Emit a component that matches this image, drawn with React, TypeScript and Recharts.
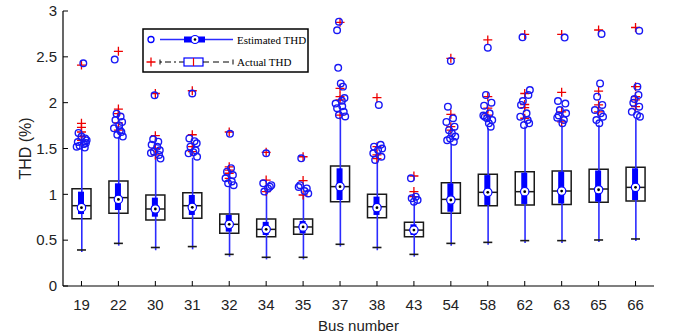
import React from 'react';
import { ComposedChart, Bar, Line, Scatter, XAxis, YAxis } from 'recharts';

const buses = ['19', '22', '30', '31', '32', '34', '35', '37', '38', '43', '54', '58', '62', '63', '65', '66'];
const yTicks = [0, 0.5, 1, 1.5, 2, 2.5, 3];

// Actual THD box statistics
const actualLow = [0.393, 0.465, 0.42, 0.43, 0.345, 0.313, 0.313, 0.455, 0.42, 0.345, 0.465, 0.476, 0.495, 0.495, 0.502, 0.513];
const actualQ1 = [0.735, 0.793, 0.72, 0.738, 0.575, 0.538, 0.564, 0.92, 0.745, 0.538, 0.793, 0.876, 0.884, 0.89, 0.913, 0.927];
const actualMedian = [0.876, 0.964, 0.84, 0.876, 0.673, 0.618, 0.644, 1.084, 0.865, 0.61, 0.945, 1.022, 1.029, 1.036, 1.058, 1.076];
const actualQ3 = [1.062, 1.145, 0.993, 1.018, 0.785, 0.731, 0.731, 1.309, 1.0, 0.695, 1.127, 1.218, 1.247, 1.255, 1.273, 1.295];

// Estimated THD box statistics
const estLow = [0.37, 0.44, 0.39, 0.4, 0.32, 0.29, 0.29, 0.43, 0.39, 0.32, 0.44, 0.45, 0.47, 0.47, 0.48, 0.49];
const estQ1 = [0.785, 0.829, 0.756, 0.775, 0.593, 0.556, 0.575, 0.938, 0.775, 0.556, 0.81, 0.884, 0.895, 0.9, 0.92, 0.938];
const estMedian = [0.855, 0.945, 0.84, 0.858, 0.673, 0.618, 0.644, 1.084, 0.855, 0.61, 0.938, 1.022, 1.029, 1.036, 1.05, 1.076];
const estQ3 = [1.029, 1.12, 0.964, 0.993, 0.775, 0.7, 0.71, 1.284, 0.975, 0.673, 1.12, 1.21, 1.236, 1.247, 1.26, 1.284];
const estHigh = [1.5, 1.63, 1.4, 1.4, 1.1, 1.03, 1.0, 1.84, 1.37, 0.91, 1.55, 1.72, 1.74, 1.75, 1.76, 1.83];

// Estimated THD outliers (values) and their horizontal jitter (fraction of a category)
const estOutliers: number[][] = [
  [2.43, 1.67, 1.63, 1.61, 1.59, 1.57, 1.55, 1.53, 1.51, 1.52, 1.56],
  [2.47, 1.88, 1.85, 1.81, 1.79, 1.75, 1.72, 1.68, 1.65, 1.63, 1.7],
  [2.08, 1.6, 1.575, 1.54, 1.52, 1.48, 1.465, 1.43, 1.39, 1.45],
  [2.1, 1.61, 1.58, 1.556, 1.52, 1.48, 1.447, 1.41, 1.46],
  [1.66, 1.285, 1.247, 1.21, 1.175, 1.14, 1.12, 1.1],
  [1.447, 1.12, 1.084, 1.065, 1.03, 1.1],
  [1.393, 1.1, 1.065, 1.036, 1.01, 1.08],
  [2.884, 2.79, 2.38, 2.21, 2.175, 2.05, 1.99, 1.96, 1.94, 1.9, 1.865, 1.85, 2.02],
  [1.975, 1.54, 1.52, 1.484, 1.447, 1.41, 1.375, 1.5],
  [1.175, 0.975, 0.956, 0.938, 0.92],
  [2.455, 1.956, 1.83, 1.79, 1.738, 1.7, 1.665, 1.63, 1.59, 1.575, 1.61],
  [2.6, 2.084, 2.0, 1.967, 1.884, 1.847, 1.81, 1.775, 1.738, 1.86, 1.83],
  [2.713, 2.138, 2.084, 2.018, 1.975, 1.884, 1.847, 1.81, 1.775, 1.756],
  [2.71, 2.018, 1.99, 1.92, 1.884, 1.836, 1.81, 1.775, 1.86],
  [2.75, 2.21, 2.065, 1.975, 1.92, 1.884, 1.847, 1.81, 1.775],
  [2.785, 2.175, 2.084, 2.0, 1.956, 1.9, 1.865, 1.847, 2.04],
];
const estJitter: number[][] = [
  [0.05, -0.08, 0.0, 0.1, 0.14, -0.1, 0.07, -0.05, 0.09, -0.13, 0.12],
  [-0.1, -0.05, 0.06, -0.08, 0.1, 0.02, -0.12, 0.08, -0.03, 0.12, 0.04],
  [-0.02, -0.06, 0.08, -0.1, 0.05, 0.12, -0.04, 0.1, 0.14, -0.12],
  [0.0, -0.08, 0.06, 0.12, -0.05, 0.09, -0.1, 0.13, 0.03],
  [0.02, 0.05, -0.06, 0.1, -0.1, 0.07, -0.03, 0.12],
  [0.0, -0.08, 0.1, 0.05, -0.05, 0.14],
  [-0.05, -0.08, 0.1, 0.04, 0.14, -0.12],
  [-0.03, -0.08, -0.05, 0.02, 0.08, 0.12, -0.12, 0.06, -0.08, 0.1, -0.03, 0.14, 0.05],
  [0.05, 0.1, -0.08, 0.03, -0.1, 0.12, -0.05, 0.14],
  [-0.08, 0.05, -0.06, 0.1, 0.0],
  [0.0, -0.08, 0.06, -0.12, 0.1, -0.05, 0.03, 0.12, -0.1, 0.08, -0.02],
  [0.0, -0.05, 0.1, -0.1, 0.05, -0.08, 0.12, 0.03, 0.08, -0.12, -0.02],
  [-0.06, 0.14, 0.1, -0.05, -0.1, 0.05, -0.12, 0.08, 0.12, -0.02],
  [0.08, -0.1, 0.1, -0.05, 0.12, -0.12, 0.06, 0.02, -0.08],
  [0.08, 0.04, -0.04, 0.1, -0.1, 0.06, 0.12, -0.06, 0.02],
  [0.1, 0.05, 0.08, -0.06, 0.1, -0.1, 0.04, 0.12, -0.03],
];

// Actual THD outliers
const actualOutliers: number[][] = [
  [2.41, 1.775, 1.73, 1.68, 1.63, 1.59],
  [2.56, 1.93, 1.88, 1.78, 1.7],
  [2.1, 1.64, 1.5, 1.43],
  [2.13, 1.65, 1.52, 1.465],
  [1.68, 1.3, 1.265, 1.23, 1.175],
  [1.458, 1.156, 1.03],
  [1.41, 1.15, 0.993],
  [2.876, 2.156, 2.065, 2.03, 1.865],
  [2.055, 1.52, 1.43, 1.39],
  [1.2, 1.03, 0.975],
  [2.484, 1.873, 1.738, 1.7],
  [2.684, 2.065, 1.94, 1.865],
  [2.745, 2.1, 1.98, 1.945, 1.83],
  [2.745, 2.113, 1.9, 1.79],
  [2.793, 2.127, 1.975, 1.9],
  [2.82, 2.175, 2.065, 2.03, 1.956],
];

const rows = buses.map((bus, i) => ({
  bus,
  aBox: [actualQ1[i], actualQ3[i]],
  aMed: actualMedian[i],
  aLow: actualLow[i],
  eWhisk: [estLow[i], estHigh[i]],
  eBox: [estQ1[i], estQ3[i]],
  eMed: estMedian[i],
}));

// numeric x axis on [0, 32]: category i is centred at 2*i+1
const estPts = estOutliers.flatMap((arr, i) => arr.map((v, k) => ({ x: 2 * i + 1 + 2 * estJitter[i][k], v })));
const actPts = actualOutliers.flatMap((arr, i) => arr.map((v) => ({ x: 2 * i + 1, v })));

const BLUE = '#0000ff';
const WHISKER = '#2b2bff';
const RED = '#ee0000';
const BLACK = '#1a1a1a';
const SANS = '"Liberation Sans", Arial, sans-serif';
const SERIF = '"Liberation Serif", "Times New Roman", serif';

const tickStyle = { fill: '#222', fontSize: 15, fontFamily: SANS };

const CapDot = (p: any) => (
  <line key={`cap-${p.index}`} x1={p.cx - 4.5} x2={p.cx + 4.5} y1={p.cy} y2={p.cy} stroke={BLACK} strokeWidth={1.6} />
);
const MedLineDot = (p: any) => (
  <line key={`am-${p.index}`} x1={p.cx - 9.5} x2={p.cx + 9.5} y1={p.cy} y2={p.cy} stroke={BLACK} strokeWidth={1.5} />
);
const MedCircleDot = (p: any) => (
  <g key={`em-${p.index}`}>
    <circle cx={p.cx} cy={p.cy} r={4.2} fill="#fff" stroke={BLUE} strokeWidth={1.2} />
    <circle cx={p.cx} cy={p.cy} r={1.4} fill="#000" />
  </g>
);
const CircleShape = (p: any) => (
  <circle cx={p.cx} cy={p.cy} r={3.3} fill="none" stroke="#1818f5" strokeWidth={1.4} />
);
const PlusShape = (p: any) => (
  <path d={`M${p.cx - 4.5},${p.cy}H${p.cx + 4.5}M${p.cx},${p.cy - 4.5}V${p.cy + 4.5}`} stroke={RED} strokeWidth={1.3} fill="none" />
);

const LegendBox = () => (
  <svg width={167} height={45} style={{ position: 'absolute', left: 142, top: 28 }}>
    <rect x={1} y={1} width={165} height={43} fill="#fff" stroke="#000" strokeWidth={1.5} />
    <circle cx={9} cy={11.5} r={3} fill="none" stroke={BLUE} strokeWidth={1.3} />
    <line x1={18} x2={91} y1={11.5} y2={11.5} stroke={WHISKER} strokeWidth={1.5} />
    <rect x={42} y={8.5} width={21} height={6} fill={BLUE} />
    <circle cx={53} cy={11.5} r={4} fill="#fff" stroke={BLUE} strokeWidth={1.2} />
    <circle cx={53} cy={11.5} r={1.3} fill="#000" />
    <text x={95} y={15.5} fontFamily={SERIF} fontSize={11} fill="#000">Estimated THD</text>
    <path d="M4.5,34H13.5M9,29.5V38.5" stroke={RED} strokeWidth={1.3} />
    <line x1={18} x2={18} y1={31.5} y2={36.5} stroke="#000" strokeWidth={1} />
    <line x1={18} x2={42} y1={34} y2={34} stroke="#000" strokeWidth={1} strokeDasharray="2 3 6 3" />
    <rect x={42} y={30} width={19} height={8} fill="none" stroke={BLUE} strokeWidth={1.2} />
    <line x1={51.5} x2={51.5} y1={30} y2={38} stroke={RED} strokeWidth={1.2} />
    <line x1={61} x2={91} y1={34} y2={34} stroke="#000" strokeWidth={1} strokeDasharray="6 4" />
    <line x1={91} x2={91} y1={31.5} y2={36.5} stroke="#000" strokeWidth={1} />
    <text x={95} y={38} fontFamily={SERIF} fontSize={11} fill="#000">Actual THD</text>
  </svg>
);

export default function App() {
  return (
    <div style={{ position: 'absolute', left: 0, top: 0, width: 676, height: 334, background: '#fff' }}>
      <ComposedChart width={676} height={334} data={rows} margin={{ top: 11, right: 22, bottom: 0, left: 0 }}>
        <XAxis
          xAxisId={0}
          dataKey="bus"
          interval={0}
          height={48}
          tickSize={-5}
          tickMargin={18}
          tick={tickStyle}
          axisLine={{ stroke: '#000', strokeWidth: 1.2 }}
          tickLine={{ stroke: '#000' }}
          label={{ value: 'Bus number', position: 'insideBottom', offset: 3, fill: '#222', fontSize: 15, fontFamily: SANS }}
        />
        <XAxis
          xAxisId="top"
          dataKey="bus"
          orientation="top"
          interval={0}
          height={0}
          tickSize={-5}
          tick={false}
          axisLine={{ stroke: '#000', strokeWidth: 1.2 }}
          tickLine={{ stroke: '#000' }}
        />
        <XAxis xAxisId="b1" dataKey="bus" hide />
        <XAxis xAxisId="b2" dataKey="bus" hide />
        <XAxis xAxisId="num" type="number" dataKey="x" domain={[0, 32]} hide />
        <YAxis
          yAxisId={0}
          domain={[0, 3]}
          ticks={yTicks}
          width={63}
          tickSize={-5}
          tickMargin={11}
          tick={tickStyle}
          axisLine={{ stroke: '#000', strokeWidth: 1.2 }}
          tickLine={{ stroke: '#000' }}
          label={{ value: 'THD (%)', angle: -90, position: 'insideLeft', offset: 25, fill: '#222', fontSize: 16, fontFamily: SANS, style: { textAnchor: 'middle' } }}
        />
        <YAxis
          yAxisId="right"
          orientation="right"
          domain={[0, 3]}
          ticks={yTicks}
          width={0}
          tickSize={-5}
          tick={false}
          axisLine={{ stroke: '#000', strokeWidth: 1.2 }}
          tickLine={{ stroke: '#000' }}
        />

        <Bar xAxisId="top" dataKey="aBox" barSize={19} fill="none" stroke={BLACK} strokeWidth={1.5} isAnimationActive={false} />
        <Line xAxisId={0} dataKey="aLow" stroke="none" dot={CapDot} activeDot={false} isAnimationActive={false} />
        <Scatter xAxisId="num" data={actPts} dataKey="v" shape={PlusShape} isAnimationActive={false} />
        <Bar xAxisId="b1" dataKey="eWhisk" barSize={1.6} fill={WHISKER} isAnimationActive={false} />
        <Bar xAxisId="b2" dataKey="eBox" barSize={6} fill={BLUE} isAnimationActive={false} />
        <Line xAxisId={0} dataKey="aMed" stroke="none" dot={MedLineDot} activeDot={false} isAnimationActive={false} />
        <Line xAxisId={0} dataKey="eMed" stroke="none" dot={MedCircleDot} activeDot={false} isAnimationActive={false} />
        <Scatter xAxisId="num" data={estPts} dataKey="v" shape={CircleShape} isAnimationActive={false} />
      </ComposedChart>
      <LegendBox />
    </div>
  );
}
